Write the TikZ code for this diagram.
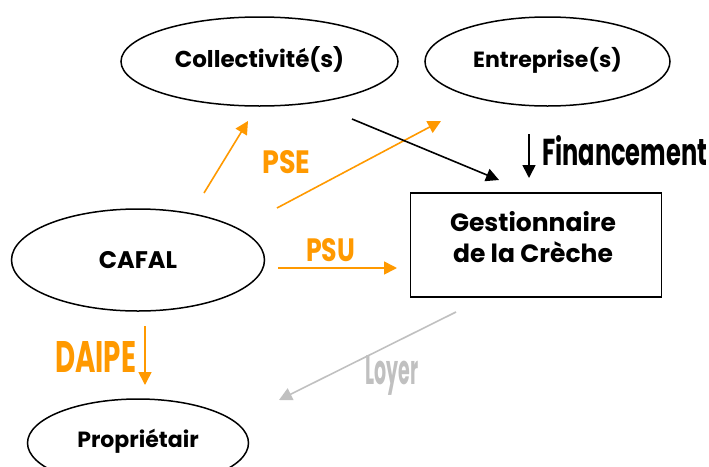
\documentclass[tikz,border=0pt]{standalone}
\usepackage{fontspec}
\setmainfont{Poppins}
\usetikzlibrary{shapes.geometric,arrows.meta}
\definecolor{org}{RGB}{255,153,0}
\definecolor{gry}{RGB}{192,192,192}
\newcommand{\lbl}[3]{\resizebox{#1pt}{#2pt}{#3}}
\begin{document}
\begin{tikzpicture}[x=1pt,y=-1pt,
  ell/.style={draw,ellipse,line width=1.5pt,inner sep=0pt,font=\bfseries},
  boxn/.style={draw,rectangle,line width=1.5pt,inner sep=0pt},
  btext/.style={inner sep=0pt,font=\fontsize{25}{31}\selectfont\bfseries,align=center},
  arr/.style={line width=1.6pt,-{Triangle[length=13pt,width=13pt]}},
  lab/.style={inner sep=0pt,anchor=base west,font=\fontsize{20}{24}\selectfont\bfseries}]
\useasboundingbox (0,0) rectangle (709,466);
\node[ell,minimum width=277pt,minimum height=89pt] (coll) at (259.5,61.5) {\fontsize{23}{26}\selectfont\raisebox{9pt}{Collectivité(s)}};
\node[ell,minimum width=245pt,minimum height=89pt] (entr) at (547.5,61.5) {\fontsize{22}{26}\selectfont\raisebox{9pt}{Entreprise(s)}};
\node[ell,minimum width=253pt,minimum height=102pt] (cafal) at (138,260) {\fontsize{24}{26}\selectfont\raisebox{-5pt}{CAFAL}};
\node[ell,minimum width=221pt,minimum height=88pt] (prop) at (138,443) {\fontsize{22}{26}\selectfont\raisebox{10pt}{Propriétair}};
\node[boxn,minimum width=251pt,minimum height=104pt] (gest) at (536,245) {};
\node[btext] (gesttxt) at (533,237) {Gestionnaire\\de la Crèche};
% arrow end points
\coordinate (a1s) at (204,193); \coordinate (a1e) at (248,121);
\coordinate (a2s) at (277,208); \coordinate (a2e) at (441,121);
\coordinate (a3s) at (352,119); \coordinate (a3e) at (499,180);
\coordinate (a4s) at (529,134); \coordinate (a4e) at (529,178);
\coordinate (a5s) at (278,268); \coordinate (a5e) at (397,268);
\coordinate (a6s) at (145,326); \coordinate (a6e) at (145,385);
\coordinate (a7s) at (456,312); \coordinate (a7e) at (279,400);
\draw[arr,org] (a1s) -- (a1e);
\draw[arr,org] (a2s) -- (a2e);
\draw[arr,black] (a3s) -- (a3e);
\draw[arr,black] (a4s) -- (a4e);
\draw[arr,org] (a5s) -- (a5e);
\draw[arr,org] (a6s) -- (a6e);
\draw[arr,gry] (a7s) -- (a7e);
\node[lab] (fin) at (542,165) {\lbl{165}{30}{Financement}};
\node[lab,text=org] (pse) at (262,173) {\lbl{48}{23}{PSE}};
\node[lab,text=org] (psu) at (306,261) {\lbl{49}{23}{PSU}};
\node[lab,text=org] (daipe) at (55,372) {\lbl{81}{31}{DAIPE}};
\node[lab,text=gry] (loyer) at (365,384) {\lbl{53}{29}{Loyer}};
\end{tikzpicture}
\end{document}
